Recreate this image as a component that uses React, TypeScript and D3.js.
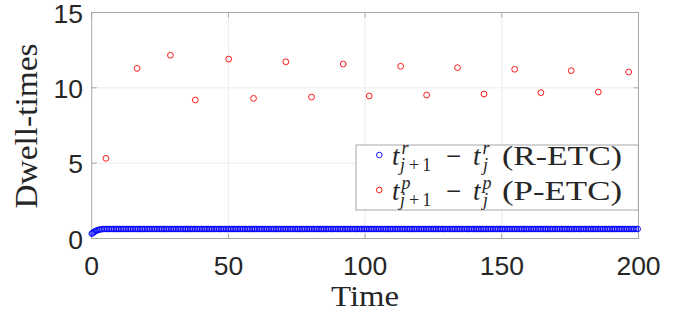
import React from 'react';
import * as d3 from 'd3';

// P-ETC: event times and dwell-times
const redTime = [5.2, 16.6, 28.8, 37.9, 50.1, 59.2, 71.0, 80.4, 92.0, 101.5, 113.0, 122.5, 133.8, 143.5, 154.7, 164.3, 175.4, 185.3, 196.4];
const redDwell = [5.32, 11.29, 12.16, 9.19, 11.91, 9.3, 11.73, 9.39, 11.58, 9.46, 11.43, 9.52, 11.34, 9.59, 11.23, 9.68, 11.14, 9.72, 11.05];

// R-ETC: dwell-times as [value, how many in a row]; times are their running sum
const blueDwellRuns: [number, number][] = [
  [0.32, 1], [0.36, 1], [0.41, 1], [0.46, 1], [0.51, 1], [0.55, 1], [0.58, 1], [0.6, 1], [0.62, 1], [0.63, 311],
];

const xTicks = [0, 50, 100, 150, 200];
const yTicks = [0, 5, 10, 15];

const blue: { t: number; d: number }[] = [];
let acc = 0;
blueDwellRuns.forEach(([v, n]) => {
  for (let i = 0; i < n; i++) {
    if (acc <= 200) blue.push({ t: acc, d: v });
    acc += v;
  }
});

const W = 694;
const H = 320;
const margin = { left: 91.7, right: 55.5, top: 12.5, bottom: 81.5 };

const App: React.FC = () => {
  const x = d3.scaleLinear().domain([0, 200]).range([margin.left, W - margin.right]);
  const y = d3.scaleLinear().domain([0, 15]).range([H - margin.bottom, margin.top]);
  const [x0, x1] = x.range();
  const [y0, y1] = y.range();

  const axisCol = '#a8a8a8';
  const gridCol = '#ececec';
  const txt = '#262626';
  const serif = "'Liberation Serif', 'Times New Roman', Times, serif";
  const sans = "'Liberation Sans', Arial, sans-serif";

  // legend
  const lg = { x: 356, y: 145, w: 282.3, h: 65 };
  const entries = [
    { sym: 'r', label: '(R-ETC)', color: '#0000ff', base: 165 },
    { sym: 'p', label: '(P-ETC)', color: '#ff0000', base: 200 },
  ];

  return (
    <svg width={W} height={H} style={{ position: 'absolute', left: 0, top: 0, background: '#fff' }}>
      {/* grid */}
      {xTicks.slice(1, -1).map(t => (
        <line key={'gx' + t} x1={x(t)} x2={x(t)} y1={y0} y2={y1} stroke={gridCol} strokeWidth={1} />
      ))}
      {yTicks.slice(1, -1).map(t => (
        <line key={'gy' + t} x1={x0} x2={x1} y1={y(t)} y2={y(t)} stroke={gridCol} strokeWidth={1} />
      ))}

      {/* box */}
      <rect x={x0} y={y1} width={x1 - x0} height={y0 - y1} fill="none" stroke={axisCol} strokeWidth={1} />

      {/* ticks */}
      {xTicks.map(t => (
        <g key={'tx' + t}>
          <line x1={x(t)} x2={x(t)} y1={y0} y2={y0 - 5} stroke={axisCol} />
          <line x1={x(t)} x2={x(t)} y1={y1} y2={y1 + 5} stroke={axisCol} />
          <text x={x(t)} y={274.5} textAnchor="middle" fontFamily={sans} fontSize={26.5} fill={txt}>
            {t}
          </text>
        </g>
      ))}
      {yTicks.map(t => (
        <g key={'ty' + t}>
          <line x1={x0} x2={x0 + 5} y1={y(t)} y2={y(t)} stroke={axisCol} />
          <line x1={x1} x2={x1 - 5} y1={y(t)} y2={y(t)} stroke={axisCol} />
          <text x={83} y={y(t) + 10} textAnchor="end" fontFamily={sans} fontSize={26.5} fill={txt}>
            {t}
          </text>
        </g>
      ))}

      {/* axis labels */}
      <text x={(x0 + x1) / 2} y={306} textAnchor="middle" fontFamily={serif} fontSize={29} fill={txt}
        textLength={68} lengthAdjust="spacingAndGlyphs">Time</text>
      <text transform={`translate(37,${126}) rotate(-90)`} textAnchor="middle" fontFamily={serif} fontSize={31}
        fill={txt} textLength={165} lengthAdjust="spacingAndGlyphs">Dwell-times</text>

      {/* R-ETC */}
      {blue.map((p, i) => (
        <circle key={'b' + i} cx={x(p.t)} cy={y(p.d)} r={2.8} fill="none" stroke="#0000ff" strokeWidth={0.9} />
      ))}
      {/* P-ETC */}
      {redTime.map((t, i) => (
        <circle key={'r' + i} cx={x(t)} cy={y(redDwell[i])} r={2.9} fill="none" stroke="#ff0000" strokeWidth={0.9} />
      ))}

      {/* legend */}
      <rect x={lg.x} y={lg.y} width={lg.w} height={lg.h} fill="#fff" stroke={axisCol} strokeWidth={1} />
      {entries.map(e => (
        <g key={e.label} fill={txt} fontFamily={serif}>
          <circle cx={379.3} cy={e.base - 10} r={2.8} fill="none" stroke={e.color} strokeWidth={0.9} />
          <text x={392} y={e.base} fontSize={27} fontStyle="italic">t</text>
          <text x={401.5} y={e.base - 11} fontSize={18} fontStyle="italic">{e.sym}</text>
          <text x={400} y={e.base + 6} fontSize={18}>
            <tspan fontStyle="italic">j</tspan>
            <tspan dx={4}>+</tspan>
            <tspan dx={3}>1</tspan>
          </text>
          <text x={446} y={e.base} fontSize={27}>−</text>
          <text x={473} y={e.base} fontSize={27} fontStyle="italic">t</text>
          <text x={482.5} y={e.base - 11} fontSize={18} fontStyle="italic">{e.sym}</text>
          <text x={483} y={e.base + 6} fontSize={18} fontStyle="italic">j</text>
          <text x={502} y={e.base} fontSize={27} textLength={120} lengthAdjust="spacingAndGlyphs">{e.label}</text>
        </g>
      ))}
    </svg>
  );
};

export default App;
